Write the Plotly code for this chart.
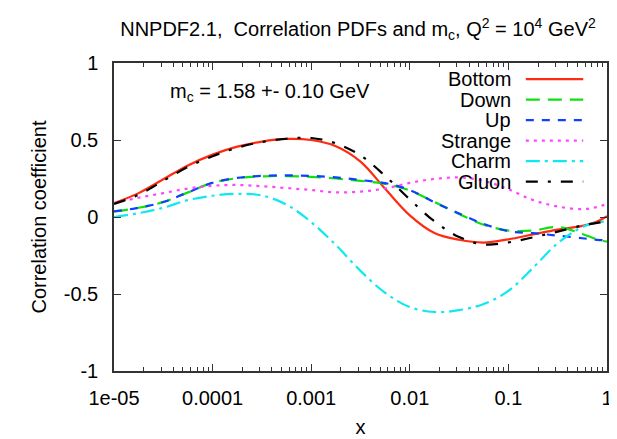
import plotly.graph_objects as go

# ---- data ----
log_x = [-5.0, -4.75, -4.5, -4.25, -4.0, -3.75, -3.5, -3.25, -3.0, -2.75, -2.5,
         -2.25, -2.0, -1.75, -1.5, -1.25, -1.0, -0.75, -0.5, -0.25, -0.1, 0.0]
x_vals = [10 ** v for v in log_x]

bottom = [0.09, 0.155, 0.245, 0.335, 0.405, 0.457, 0.49, 0.507, 0.50, 0.46, 0.36,
          0.183, 0.011, -0.104, -0.148, -0.166, -0.145, -0.113, -0.082, -0.058, -0.03, 0.005]
down = [0.036, 0.06, 0.097, 0.16, 0.222, 0.252, 0.264, 0.266, 0.26, 0.25, 0.235,
        0.215, 0.172, 0.097, 0.02, -0.05, -0.088, -0.088, -0.065, -0.11, -0.145, -0.16]
up = [0.036, 0.06, 0.097, 0.16, 0.222, 0.254, 0.267, 0.27, 0.267, 0.257, 0.24,
      0.22, 0.175, 0.095, 0.022, -0.045, -0.092, -0.105, -0.121, -0.138, -0.148, -0.152]
strange = [0.09, 0.125, 0.155, 0.185, 0.203, 0.208, 0.2, 0.188, 0.175, 0.16, 0.165,
           0.185, 0.222, 0.247, 0.257, 0.235, 0.18, 0.11, 0.068, 0.051, 0.065, 0.085]
charm = [0.0, 0.025, 0.06, 0.11, 0.138, 0.15, 0.14, 0.08, -0.033, -0.182, -0.35,
         -0.492, -0.585, -0.617, -0.605, -0.565, -0.48, -0.33, -0.17, -0.065, -0.035, -0.03]
gluon = [0.085, 0.145, 0.235, 0.325, 0.395, 0.45, 0.487, 0.508, 0.513, 0.478, 0.40,
         0.267, 0.114, -0.028, -0.13, -0.178, -0.165, -0.132, -0.095, -0.055, -0.038, -0.03]

series_names = ["Bottom", "Down", "Up", "Strange", "Charm", "Gluon"]
series_values = [bottom, down, up, strange, charm, gluon]
series_colors = ["#ff2a10", "#10e010", "#1040ff", "#ff44ff", "#10e8f0", "#000000"]
series_dash = ["solid", "14px,8px", "8px,8px", "3px,5px", "14px,5px,3px,5px", "12px,10px,3px,10px"]

x_tickvals = [1e-5, 1e-4, 1e-3, 1e-2, 1e-1, 1]
x_ticktext = ["1e-05", "0.0001", "0.001", "0.01", "0.1", "1"]
y_tickvals = [-1, -0.5, 0, 0.5, 1]
y_ticktext = ["-1", "-0.5", "0", "0.5", "1"]

W, H = 617, 439
L, R, T, B = 106, 13, 55, 61
FONT = "Liberation Sans, Arial, Helvetica, sans-serif"


def px_to_paper(px, py):
    return (px - L) / (W - L - R), (H - B - py) / (H - T - B)


fig = go.Figure()
for name, vals, col, dash in zip(series_names, series_values, series_colors, series_dash):
    fig.add_trace(go.Scatter(
        x=x_vals, y=vals, mode="lines", name=name, showlegend=False,
        line=dict(color=col, width=2.2, dash=dash, shape="spline", smoothing=1.0),
    ))

# manual legend (text on the left, sample on the right, like gnuplot)
annotations = []
shapes = []
row_y0, row_dy = 72, 21.5
for i, (name, col, dash) in enumerate(zip(series_names, series_colors, series_dash)):
    py = row_y0 + i * row_dy
    tx, ty = px_to_paper(509, py)
    annotations.append(dict(x=tx, y=ty, xref="paper", yref="paper", text=name,
                            showarrow=False, xanchor="right", yanchor="middle",
                            font=dict(size=20, color="black", family=FONT)))
    x0, yy = px_to_paper(522, py)
    x1, _ = px_to_paper(580, py)
    shapes.append(dict(type="line", xref="paper", yref="paper", x0=x0, x1=x1, y0=yy, y1=yy,
                       line=dict(color=col, width=2.2, dash=dash)))

ax, ay = px_to_paper(161, 86)
annotations.append(dict(x=ax, y=ay, xref="paper", yref="paper",
                        text="m<sub>c</sub> = 1.58 +- 0.10 GeV", showarrow=False,
                        xanchor="left", yanchor="middle",
                        font=dict(size=20, color="black", family=FONT)))

fig.update_layout(
    width=W, height=H,
    margin=dict(l=L, r=R, t=T, b=B),
    paper_bgcolor="white", plot_bgcolor="white",
    font=dict(family=FONT, size=20, color="black"),
    title=dict(text="NNPDF2.1,  Correlation PDFs and m<sub>c</sub>, Q<sup>2</sup> = 10<sup>4</sup> GeV<sup>2</sup>",
               x=350 / W, xanchor="center", y=1 - 21 / H, yanchor="middle",
               font=dict(size=20, family=FONT, color="black")),
    annotations=annotations,
    shapes=shapes,
)

fig.update_xaxes(
    type="log", range=[-5, 0],
    tickvals=x_tickvals, ticktext=x_ticktext,
    ticks="inside", ticklen=7, tickwidth=1.2, tickcolor="#333",
    showline=True, linecolor="#333", linewidth=1.5, mirror="ticks",
    showgrid=False, zeroline=False,
    minor=dict(ticks="inside", ticklen=4, dtick="D1", tickcolor="#333", showgrid=False),
    ticklabelstandoff=8,
    tickfont=dict(size=20, family=FONT, color="black"),
    title=dict(text="x", standoff=12, font=dict(size=20, family=FONT, color="black")),
)
fig.update_yaxes(
    range=[-1, 1],
    tickvals=y_tickvals, ticktext=y_ticktext,
    ticks="inside", ticklen=7, tickwidth=1.2, tickcolor="#333",
    showline=True, linecolor="#333", linewidth=1.5, mirror="ticks",
    showgrid=False, zeroline=False,
    ticklabelstandoff=10,
    tickfont=dict(size=20, family=FONT, color="black"),
    title=dict(text="Correlation coefficient", standoff=12,
               font=dict(size=20, family=FONT, color="black")),
)

fig.write_html("out.html")
